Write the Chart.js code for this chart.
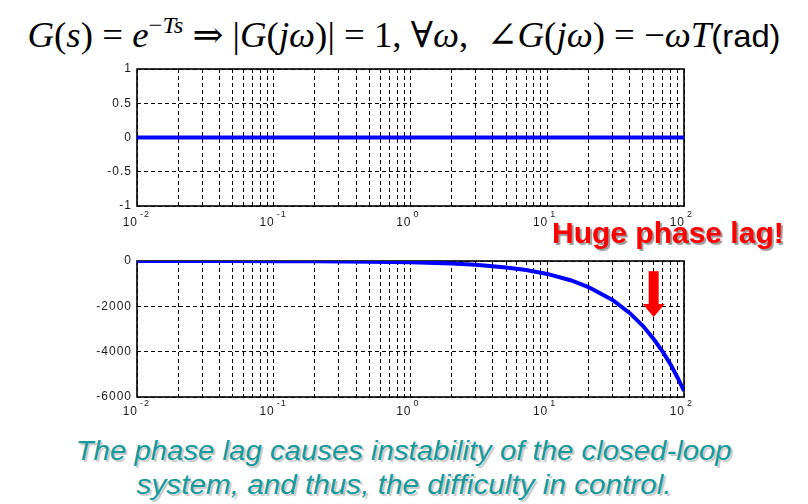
<!DOCTYPE html>
<html>
<head>
<meta charset="utf-8">
<script src="https://cdn.jsdelivr.net/npm/chart.js"></script>
<style>
  body { margin: 0; background: #fff; }
  #page { position: relative; width: 808px; height: 504px; overflow: hidden; background: #fff;
          font-family: "Liberation Sans", Arial, sans-serif; }
  .plot { position: absolute; left: 0; width: 808px; }
  #title { position: absolute; top: 14px; left: 0; width: 808px; text-align: center; white-space: nowrap;
           font-family: "Liberation Serif", "DejaVu Serif", serif; font-size: 36px; color: #000; }
  #title .fit { display: inline-block; transform-origin: center; }
  #title sup { font-size: 24px; vertical-align: 14px; line-height: 0; }
  #title .rm { font-family: "Liberation Sans", Arial, sans-serif; font-size: 32px; }
  #lag { position: absolute; left: 552px; top: 218px; font-size: 30px; line-height: 30px; font-weight: bold;
         color: #ff0000; white-space: nowrap; text-shadow: 2px 2px 1px #9a9a9a; }
  #note { position: absolute; left: 0; top: 434px; width: 808px; text-align: center; font-style: italic;
          font-size: 27px; line-height: 34px; color: #179a9a; text-shadow: 2px 2px 1px #c8c8c8; }
  #note .fit { display: inline-block; white-space: nowrap; transform-origin: center; }
</style>
</head>
<body>
<div id="page">
  <div id="title"><span class="fit" data-w="753"><i>G</i>(<i>s</i>) = <i>e</i><sup>−<i>Ts</i></sup> ⇒ |<i>G</i>(<i>jω</i>)| = 1, ∀<i>ω</i>, &nbsp;∠<i>G</i>(<i>jω</i>) = −<i>ωT</i><span class="rm">(rad)</span></span></div>
  <div class="plot" style="top:55px;height:175px"><canvas id="magChart"></canvas></div>
  <div class="plot" style="top:240px;height:180px"><canvas id="phaseChart"></canvas></div>
  <div id="lag">Huge phase lag!</div>
  <div id="note">
    <span class="fit" data-w="656">The phase lag causes instability of the closed-loop</span><br>
    <span class="fit" data-w="535">system, and thus, the difficulty in control.</span>
  </div>
</div>
<script>
// frequency axis (rad/s)
const X_MIN = 0.01;
const X_MAX = 100;
const X_DECADES = [0.01, 0.1, 1, 10, 100];
const X_EXPONENTS = ['-2', '-1', '0', '1', '2'];

// magnitude plot
const MAG_FREQ = [0.01, 100];
const MAG_VALUES = [0, 0];
const MAG_TICKS = [-1, -0.5, 0, 0.5, 1];
const MAG_LABELS = ['-1', '-0.5', '0', '0.5', '1'];

// phase plot (degrees)
const PHASE_FREQ = [0.01, 0.02, 0.05, 0.1, 0.2, 0.5, 1, 2, 3, 5, 7, 10, 15, 20, 30, 40, 50, 60, 70, 80, 90, 100];
const PHASE_VALUES = [-1, -1, -3, -6, -11, -29, -57, -115, -170, -285, -400, -570, -860, -1150, -1720, -2290, -2860, -3440, -4010, -4580, -5160, -5730];
const PHASE_TICKS = [-6000, -4000, -2000, 0];
const PHASE_LABELS = ['-6000', '-4000', '-2000', '0'];

// red arrow: frequency and phase range
const ARROW_FREQ = 60;
const ARROW_FROM = -450;
const ARROW_TO = -2470;

const FONT = '"Liberation Sans", Arial, sans-serif';

// grid lines at 1..9 x each decade
const xGrid = [];
for (let d = 0; d < X_DECADES.length - 1; d++) {
  for (let k = 1; k < 10; k++) xGrid.push(X_DECADES[d] * k);
}
xGrid.push(X_MAX);

// Rahmen um die Plotfläche
const framePlugin = {
  id: 'frame',
  beforeDatasetsDraw(chart) {
    const { ctx, chartArea: a } = chart;
    ctx.save();
    ctx.strokeStyle = '#000';
    ctx.lineWidth = 1.6;
    ctx.strokeRect(a.left, a.top, a.right - a.left, a.bottom - a.top);
    ctx.restore();
  }
};

// Achsenbeschriftung im MATLAB-Stil (gesperrt, 10^n)
function axisLabels(offset, yTicks, yLabels) {
  return {
    id: 'axisLabels',
    afterDraw(chart) {
      const { ctx, chartArea: a } = chart;
      const sx = chart.scales.x;
      const sy = chart.scales.y;
      ctx.save();
      ctx.fillStyle = '#1a1a1a';
      ctx.letterSpacing = '1px';
      ctx.textBaseline = 'alphabetic';
      X_DECADES.forEach((v, i) => {
        const px = sx.getPixelForValue(v);
        ctx.font = '12px ' + FONT;
        ctx.textAlign = 'right';
        ctx.fillText('10', px + 1, a.bottom + offset);
        ctx.font = '9px ' + FONT;
        ctx.textAlign = 'left';
        ctx.fillText(X_EXPONENTS[i], px + 3, a.bottom + offset - 9);
      });
      ctx.font = '12px ' + FONT;
      ctx.textAlign = 'right';
      ctx.textBaseline = 'middle';
      yTicks.forEach((v, i) => {
        ctx.fillText(yLabels[i], a.left - 5, sy.getPixelForValue(v));
      });
      ctx.restore();
    }
  };
}

const arrowPlugin = {
  id: 'arrow',
  afterDraw(chart) {
    const { ctx, scales } = chart;
    const x = scales.x.getPixelForValue(ARROW_FREQ);
    const y1 = scales.y.getPixelForValue(ARROW_FROM);
    const y2 = scales.y.getPixelForValue(ARROW_TO);
    const head = 13;
    ctx.save();
    ctx.fillStyle = '#ff0000';
    ctx.fillRect(x - 5, y1, 10, y2 - y1 - head);
    ctx.beginPath();
    ctx.moveTo(x - 11, y2 - head);
    ctx.lineTo(x + 11, y2 - head);
    ctx.lineTo(x, y2);
    ctx.closePath();
    ctx.fill();
    ctx.restore();
  }
};

function makeChart(id, freq, values, yMin, yMax, yTicks, yLabels, pad, xHeight, plugins) {
  return new Chart(document.getElementById(id), {
    type: 'line',
    data: {
      datasets: [{
        data: freq.map((f, i) => ({ x: f, y: values[i] })),
        borderColor: '#0000ff',
        borderWidth: 4,
        pointRadius: 0,
        tension: 0
      }]
    },
    options: {
      responsive: true,
      maintainAspectRatio: false,
      animation: false,
      layout: { padding: pad },
      plugins: { legend: { display: false }, tooltip: { enabled: false } },
      scales: {
        x: {
          type: 'logarithmic',
          min: X_MIN,
          max: X_MAX,
          afterBuildTicks: s => { s.ticks = xGrid.map(v => ({ value: v })); },
          afterFit: s => { s.height = xHeight; },
          ticks: { display: false, autoSkip: false },
          grid: { color: '#000', lineWidth: 1, drawTicks: false },
          border: { display: false, dash: [4, 3] }
        },
        y: {
          min: yMin,
          max: yMax,
          afterBuildTicks: s => { s.ticks = yTicks.map(v => ({ value: v })); },
          afterFit: s => { s.width = 137; },
          ticks: { display: false, autoSkip: false },
          grid: { color: '#000', lineWidth: 1, drawTicks: false },
          border: { display: false, dash: [4, 3] }
        }
      }
    },
    plugins: [framePlugin, axisLabels(pad.offset, yTicks, yLabels)].concat(plugins)
  });
}

makeChart('magChart', MAG_FREQ, MAG_VALUES, -1, 1, MAG_TICKS, MAG_LABELS,
  { top: 14, right: 124, left: 0, bottom: 0, offset: 20 }, 24, []);
makeChart('phaseChart', PHASE_FREQ, PHASE_VALUES, -6000, 0, PHASE_TICKS, PHASE_LABELS,
  { top: 21, right: 124, left: 0, bottom: 0, offset: 18 }, 23, [arrowPlugin]);

// Textbreiten an die Vorlage anpassen
document.querySelectorAll('.fit').forEach(el => {
  const w = el.getBoundingClientRect().width;
  el.style.transform = 'scaleX(' + (parseFloat(el.dataset.w) / w) + ')';
});
</script>
</body>
</html>
